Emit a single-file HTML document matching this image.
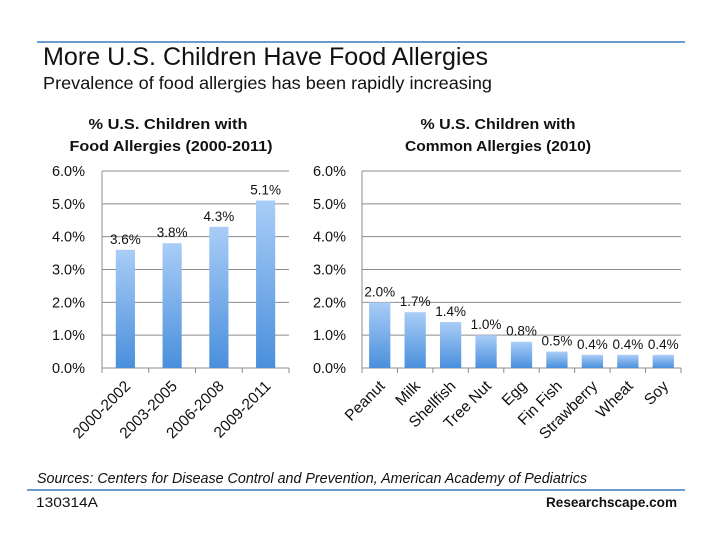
<!DOCTYPE html>
<html><head><meta charset="utf-8"><style>
body{margin:0;background:#fff}
svg{display:block;font-family:"Liberation Sans",sans-serif}
</style></head><body>
<svg width="720" height="540" viewBox="0 0 720 540">
<defs><linearGradient id="g" x1="0" y1="0" x2="0" y2="1"><stop offset="0" stop-color="#a9cdf7"/><stop offset="1" stop-color="#4a8fdc"/></linearGradient></defs>
<line x1="37" y1="42" x2="685" y2="42" stroke="#6a9bd0" stroke-width="2"/>
<text x="43" y="65" font-size="25" fill="#111" textLength="445" lengthAdjust="spacingAndGlyphs">More U.S. Children Have Food Allergies</text>
<text x="43" y="89" font-size="17.5" fill="#111" textLength="449" lengthAdjust="spacingAndGlyphs">Prevalence of food allergies has been rapidly increasing</text>
<g font-weight="bold" font-size="14.5" fill="#111" text-anchor="middle">
<text x="168" y="129" textLength="159" lengthAdjust="spacingAndGlyphs">% U.S. Children with</text>
<text x="171" y="151" textLength="203" lengthAdjust="spacingAndGlyphs">Food Allergies (2000-2011)</text>
<text x="498" y="129" textLength="155" lengthAdjust="spacingAndGlyphs">% U.S. Children with</text>
<text x="498" y="151" textLength="186" lengthAdjust="spacingAndGlyphs">Common Allergies (2010)</text>
</g>
<g id="left"></g>
<g id="right"></g>
<text x="37" y="483" font-size="14.5" font-style="italic" fill="#111" textLength="550" lengthAdjust="spacingAndGlyphs">Sources: Centers for Disease Control and Prevention, American Academy of Pediatrics</text>
<line x1="27" y1="490" x2="685" y2="490" stroke="#6a9bd0" stroke-width="2"/>
<text x="36" y="507" font-size="13.5" fill="#111" textLength="62" lengthAdjust="spacingAndGlyphs">130314A</text>
<text x="677" y="507" font-size="13.5" font-weight="bold" fill="#111" text-anchor="end" textLength="131" lengthAdjust="spacingAndGlyphs">Researchscape.com</text>
</svg>
<script>
const leftCategories=["2000-2002","2003-2005","2006-2008","2009-2011"];
const leftValues=[3.6,3.8,4.3,5.1];
const rightCategories=["Peanut","Milk","Shellfish","Tree Nut","Egg","Fin Fish","Strawberry","Wheat","Soy"];
const rightValues=[2.0,1.7,1.4,1.0,0.8,0.5,0.4,0.4,0.4];
const yTicks=[0,1,2,3,4,5,6];
const NS="http://www.w3.org/2000/svg";
function mk(parent,tag,attrs){const e=document.createElementNS(NS,tag);for(const k in attrs)e.setAttribute(k,attrs[k]);parent.appendChild(e);return e;}
function draw(gid,cats,vals,x0,x1,labelX,barFrac){
  const g=document.getElementById(gid);
  const y0=368,yTop=171,yMax=6;
  const y=v=>y0-(v/yMax)*(y0-yTop);
  const bw=(x1-x0)/cats.length;
  const x=i=>x0+bw*(i+0.5);
  yTicks.forEach(t=>{
    if(t>0){const l=mk(g,'line',{x1:x0,x2:x1,y1:y(t),y2:y(t),stroke:'#8c8c8c','stroke-width':1});
    
    }
    const tx=mk(g,'text',{x:labelX,y:y(t)+5,'font-size':14.5,'text-anchor':'end',fill:'#111'});
    tx.textContent=t.toFixed(1)+'%';
    
    
  });
  const ax=mk(g,'line',{x1:x0,x2:x0,y1:yTop,y2:y0,stroke:'#8c8c8c'});
  
  
  const bx=mk(g,'line',{x1:x0,x2:x1,y1:y0,y2:y0,stroke:'#8c8c8c'});
  
  
  for(let i=0;i<=cats.length;i++){const tk=mk(g,'line',{x1:x0+bw*i,x2:x0+bw*i,y1:y0,y2:y0+5,stroke:'#8c8c8c'});
    
    }
  cats.forEach((c,i)=>{
    const w=bw*barFrac;
    const r=mk(g,'rect',{x:x(i)-w/2,y:y(vals[i]),width:w,height:y0-y(vals[i]),fill:'url(#g)'});
    
    
    const vl=mk(g,'text',{x:x(i),y:y(vals[i])-6,'font-size':13.5,'text-anchor':'middle',fill:'#111'});
    vl.textContent=vals[i].toFixed(1)+'%';
    
    
    const lx=x(i)+6,ly=387;
    const cl=mk(g,'text',{x:lx,y:ly,'font-size':15.5,'text-anchor':'end',fill:'#111',transform:`rotate(-45 ${lx} ${ly})`});
    cl.textContent=c;
    
    
  });
}
draw('left',leftCategories,leftValues,102,289,85,0.41);
draw('right',rightCategories,rightValues,362,681,346,0.6);
</script>
</body></html>
